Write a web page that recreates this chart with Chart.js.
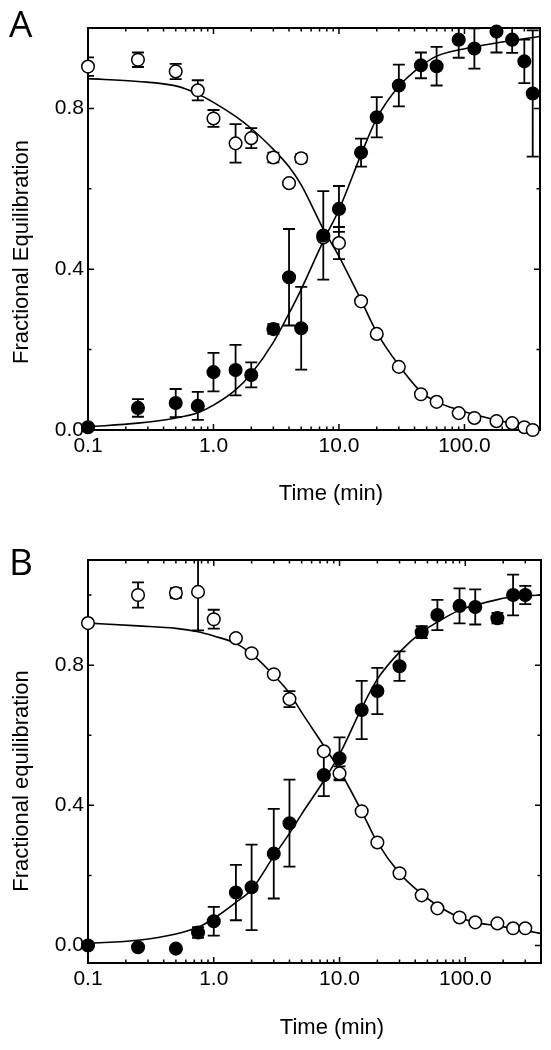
<!DOCTYPE html>
<html>
<head>
<meta charset="utf-8">
<script src="https://cdn.jsdelivr.net/npm/chart.js@4.4.1/dist/chart.umd.min.js"></script>
<style>
  html, body { margin: 0; padding: 0; background: #fff; }
  #wrap { width: 551px; height: 1050px; }
  canvas { display: block; }
</style>
</head>
<body>
<div id="wrap">
  <canvas id="chartA" width="551" height="520"></canvas>
  <canvas id="chartB" width="551" height="530"></canvas>
</div>
<script>
// Axis ticks
const X_TICKS = [0.1, 1, 10, 100];
const Y_TICKS = [0, 0.4, 0.8];
const Y_MINOR_A = [0.2, 0.6];
const Y_MINOR_B = [0.2, 0.6, 1.0];

// Panel A measurements (time in min)
const TIME_A = [0.1, 0.25, 0.5, 0.75, 1, 1.5, 2, 3, 4, 5, 7.5, 10, 15, 20, 30, 45, 60, 90, 120, 180, 240, 300, 350];
const OPEN_A = [0.904, 0.921, 0.892, 0.845, 0.775, 0.713, 0.726, 0.678, 0.614, 0.676, 0.479, 0.465, 0.32, 0.239, 0.157, 0.089, 0.070, 0.042, 0.03, 0.022, 0.017, 0.007, 0.0];
const OPEN_A_ERR = [0.023, 0.018, 0.019, 0.025, 0.021, 0.048, 0.025, 0.012, 0, 0.01, 0, 0.04, 0, 0, 0, 0, 0, 0, 0, 0, 0, 0, 0];
const FILLED_A = [0.007, 0.055, 0.067, 0.06, 0.144, 0.149, 0.137, 0.251, 0.38, 0.253, 0.484, 0.55, 0.69, 0.778, 0.857, 0.907, 0.905, 0.971, 0.949, 0.991, 0.971, 0.917, 0.837];
const FILLED_A_ERR = [0, 0.022, 0.035, 0.035, 0.048, 0.063, 0.031, 0.012, 0.12, 0.103, 0.11, 0.057, 0.035, 0.05, 0.052, 0.032, 0.048, 0.045, 0.05, 0.052, 0.033, 0.054, 0.157];

// Panel A fitted curves
const FIT_A_OPEN_T = [0.1, 0.25, 0.5, 0.75, 1, 1.5, 2, 3, 4, 5, 7.5, 10, 15, 20, 30, 45, 60, 90, 180, 400];
const FIT_A_OPEN_V = [0.874, 0.867, 0.856, 0.836, 0.815, 0.78, 0.75, 0.698, 0.655, 0.61, 0.5, 0.432, 0.323, 0.243, 0.161, 0.095, 0.07, 0.05, 0.025, 0.003];
const FIT_A_FILLED_T = [0.1, 0.25, 0.5, 0.75, 1, 1.5, 2, 3, 4, 5, 7.5, 10, 15, 20, 30, 45, 60, 120, 200, 400];
const FIT_A_FILLED_V = [0.008, 0.017, 0.03, 0.043, 0.062, 0.1, 0.14, 0.218, 0.29, 0.35, 0.47, 0.548, 0.685, 0.775, 0.855, 0.905, 0.93, 0.953, 0.965, 0.979];

// Panel B measurements
const TIME_B = [0.1, 0.25, 0.5, 0.75, 1, 1.5, 2, 3, 4, 7.5, 10, 15, 20, 30, 45, 60, 90, 120, 180, 240, 300];
const OPEN_B = [0.92, 1.0, 1.006, 1.009, 0.931, 0.877, 0.834, 0.774, 0.703, 0.554, 0.491, 0.383, 0.294, 0.206, 0.143, 0.106, 0.08, 0.066, 0.063, 0.049, 0.049];
const OPEN_B_ERR = [0, 0.036, 0.014, 0.11, 0.027, 0, 0, 0, 0.023, 0, 0.02, 0, 0, 0, 0, 0, 0, 0, 0, 0, 0];
const FILLED_B = [0.0, -0.005, -0.009, 0.037, 0.069, 0.151, 0.166, 0.262, 0.349, 0.486, 0.534, 0.672, 0.726, 0.797, 0.894, 0.943, 0.969, 0.966, 0.934, 1.0, 1.0];
const FILLED_B_ERR = [0, 0, 0, 0.015, 0.041, 0.079, 0.122, 0.128, 0.124, 0.06, 0.06, 0.083, 0.066, 0.042, 0.017, 0.043, 0.05, 0.05, 0.015, 0.058, 0.026];

// Panel B fitted curves
const FIT_B_OPEN_T = [0.1, 0.25, 0.5, 0.75, 1, 1.5, 2, 3, 4, 5, 7.5, 10, 15, 20, 30, 45, 60, 90, 120, 180, 300, 400];
const FIT_B_OPEN_V = [0.92, 0.912, 0.905, 0.895, 0.883, 0.862, 0.832, 0.771, 0.72, 0.665, 0.57, 0.5, 0.383, 0.294, 0.206, 0.147, 0.114, 0.08, 0.066, 0.056, 0.043, 0.034];
const FIT_B_FILLED_T = [0.1, 0.25, 0.5, 0.75, 1, 1.5, 2, 3, 4, 5, 7.5, 10, 15, 20, 30, 45, 60, 90, 120, 180, 240, 400];
const FIT_B_FILLED_V = [0.006, 0.015, 0.033, 0.052, 0.077, 0.123, 0.16, 0.255, 0.32, 0.375, 0.47, 0.545, 0.677, 0.76, 0.837, 0.894, 0.923, 0.957, 0.971, 0.987, 0.995, 1.0];

// Style
const FONT = '"Liberation Sans", Arial, sans-serif';
const AXIS_WIDTH = 2;
const MAJOR_TICK = 6;
const MINOR_TICK = 3.5;
const CAP_HALF = 6;

Chart.defaults.font.family = FONT;
Chart.defaults.color = '#000';

const zip = (xs, ys) => xs.map((x, i) => ({ x, y: ys[i] }));

/** Minor log ticks 2..9 per decade inside the axis range */
function logMinors(min, max) {
  const out = [];
  for (let d = Math.floor(Math.log10(min)); d <= Math.ceil(Math.log10(max)); d++) {
    for (let m = 2; m <= 9; m++) {
      const v = m * Math.pow(10, d);
      if (v > min && v < max) out.push(v);
    }
  }
  return out;
}

/** Frame with inward ticks, error bars, and the panel texts */
const framePlugin = {
  id: 'frame',
  beforeDatasetsDraw(chart, args, opts) {
    const { ctx, chartArea: a, scales: { x, y } } = chart;
    ctx.save();
    ctx.strokeStyle = '#000';
    ctx.lineWidth = AXIS_WIDTH;
    ctx.strokeRect(a.left, a.top, a.right - a.left, a.bottom - a.top);

    ctx.lineWidth = 1.5;
    ctx.beginPath();
    const xTick = (v, len) => {
      const px = x.getPixelForValue(v);
      ctx.moveTo(px, a.bottom); ctx.lineTo(px, a.bottom - len);
      ctx.moveTo(px, a.top); ctx.lineTo(px, a.top + len);
    };
    const yTick = (v, len) => {
      const py = y.getPixelForValue(v);
      ctx.moveTo(a.left, py); ctx.lineTo(a.left + len, py);
      ctx.moveTo(a.right, py); ctx.lineTo(a.right - len, py);
    };
    X_TICKS.forEach(v => xTick(v, MAJOR_TICK));
    logMinors(x.min, x.max).forEach(v => xTick(v, MINOR_TICK));
    Y_TICKS.forEach(v => yTick(v, MAJOR_TICK));
    (opts.yMinor || []).forEach(v => yTick(v, MINOR_TICK));
    ctx.stroke();

    // error bars (under the markers)
    ctx.beginPath();
    ctx.rect(a.left, a.top - 1, a.right - a.left, a.bottom - a.top + 2);
    ctx.clip();
    ctx.lineWidth = 1.8;
    ctx.beginPath();
    chart.data.datasets.forEach(ds => {
      if (!ds.errors) return;
      ds.data.forEach((p, i) => {
        const e = ds.errors[i];
        if (!e) return;
        const px = x.getPixelForValue(p.x);
        const top = y.getPixelForValue(p.y + e);
        const bot = y.getPixelForValue(p.y - e);
        ctx.moveTo(px, top); ctx.lineTo(px, bot);
        ctx.moveTo(px - CAP_HALF, top); ctx.lineTo(px + CAP_HALF, top);
        ctx.moveTo(px - CAP_HALF, bot); ctx.lineTo(px + CAP_HALF, bot);
      });
    });
    ctx.stroke();
    ctx.restore();
  },
  afterDraw(chart, args, opts) {
    const ctx = chart.ctx;
    ctx.save();
    ctx.fillStyle = '#000';
    ctx.textBaseline = 'alphabetic';

    ctx.font = '37px "Open Sans", sans-serif';
    ctx.textAlign = 'left';
    ctx.fillText(opts.letter, 9, opts.letterY);

    ctx.font = `22px ${FONT}`;
    ctx.textAlign = 'center';
    ctx.fillText(opts.xTitle, opts.xTitleX, opts.xTitleY);

    ctx.translate(opts.yTitleX, opts.yTitleY);
    ctx.rotate(-Math.PI / 2);
    ctx.fillText(opts.yTitle, 0, 0);
    ctx.restore();
  }
};

function pointSet(times, values, errors, fill) {
  return {
    data: zip(times, values),
    errors,
    showLine: false,
    pointRadius: 6.3,
    pointHoverRadius: 6.3,
    pointBorderWidth: 1.5,
    pointBackgroundColor: fill,
    pointBorderColor: '#000',
    clip: false,
    order: 0
  };
}

function fitSet(times, values) {
  return {
    data: zip(times, values),
    showLine: true,
    borderColor: '#000',
    borderWidth: 1.6,
    pointRadius: 0,
    cubicInterpolationMode: 'monotone',
    order: 1
  };
}

function makePanel(canvasId, p) {
  const el = document.getElementById(canvasId);
  return new Chart(el, {
    type: 'scatter',
    data: {
      datasets: [
        pointSet(p.time, p.filled, p.filledErr, '#000'),
        pointSet(p.time, p.open, p.openErr, '#fff'),
        fitSet(p.fitOpenT, p.fitOpenV),
        fitSet(p.fitFilledT, p.fitFilledV)
      ]
    },
    options: {
      responsive: false,
      animation: false,
      devicePixelRatio: 1,
      layout: { padding: { top: p.padTop, right: p.padRight, left: 0, bottom: 0 } },
      scales: {
        x: {
          type: 'logarithmic',
          min: 0.1,
          max: 400,
          afterFit: s => { s.height = p.xAxisHeight; },
          afterBuildTicks: s => { s.ticks = X_TICKS.map(v => ({ value: v })); },
          ticks: { callback: v => Number(v).toFixed(1), padding: 4, maxRotation: 0, font: { size: 21 } },
          grid: { display: false, drawTicks: false },
          border: { display: false }
        },
        y: {
          type: 'linear',
          min: p.yMin,
          max: p.yMax,
          afterFit: s => { s.width = 88; },
          afterBuildTicks: s => { s.ticks = Y_TICKS.map(v => ({ value: v })); },
          ticks: { callback: v => Number(v).toFixed(1), padding: 4, font: { size: 21 } },
          grid: { display: false, drawTicks: false },
          border: { display: false }
        }
      },
      plugins: {
        legend: { display: false },
        tooltip: { enabled: false },
        frame: p.frame
      }
    },
    plugins: [framePlugin]
  });
}

makePanel('chartA', {
  time: TIME_A, open: OPEN_A, openErr: OPEN_A_ERR, filled: FILLED_A, filledErr: FILLED_A_ERR,
  fitOpenT: FIT_A_OPEN_T, fitOpenV: FIT_A_OPEN_V, fitFilledT: FIT_A_FILLED_T, fitFilledV: FIT_A_FILLED_V,
  yMin: 0, yMax: 1.0, padTop: 28, padRight: 11, xAxisHeight: 90,
  frame: {
    yMinor: Y_MINOR_A, letter: 'A', letterY: 37,
    xTitle: 'Time (min)', xTitleX: 331, xTitleY: 500,
    yTitle: 'Fractional Equilibration', yTitleX: 28, yTitleY: 252
  }
});

makePanel('chartB', {
  time: TIME_B, open: OPEN_B, openErr: OPEN_B_ERR, filled: FILLED_B, filledErr: FILLED_B_ERR,
  fitOpenT: FIT_B_OPEN_T, fitOpenV: FIT_B_OPEN_V, fitFilledT: FIT_B_FILLED_T, fitFilledV: FIT_B_FILLED_V,
  yMin: -0.05, yMax: 1.1, padTop: 40, padRight: 10, xAxisHeight: 87,
  frame: {
    yMinor: Y_MINOR_B, letter: 'B', letterY: 55,
    xTitle: 'Time (min)', xTitleX: 332, xTitleY: 514,
    yTitle: 'Fractional equilibration', yTitleX: 28, yTitleY: 261
  }
});
</script>
</body>
</html>
